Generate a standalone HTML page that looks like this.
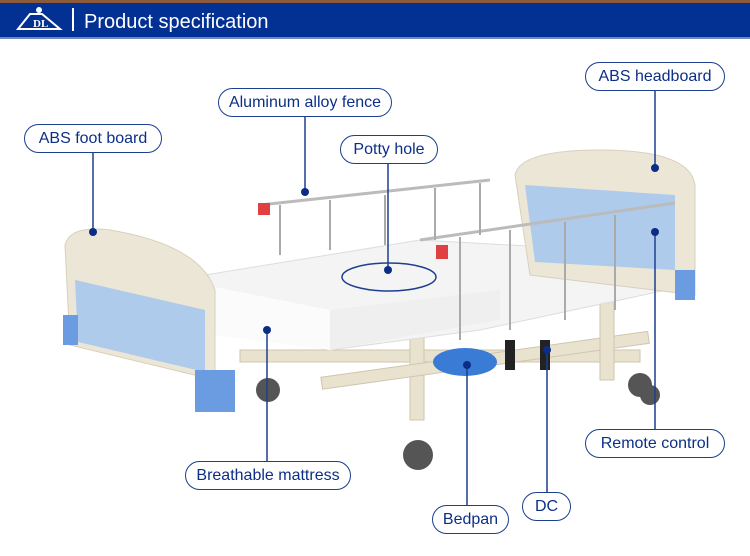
<!DOCTYPE html>
<html><head><meta charset="utf-8"><style>
body{margin:0;width:750px;height:556px;overflow:hidden;background:#fff;font-family:"Liberation Sans",sans-serif}
.lbl{position:absolute;border:1.5px solid #1d3f8f;border-radius:15px;background:#fff;color:#0c2f86;font-size:16px;text-align:center;box-sizing:border-box;line-height:28px}
</style></head><body>
<div style="position:absolute;left:0;top:0;width:750px;height:3px;background:#8a5a3a"></div>
<div style="position:absolute;left:0;top:3px;width:750px;height:34px;background:#033093"></div>
<div style="position:absolute;left:0;top:37px;width:750px;height:2px;background:#6f86c0"></div>
<svg style="position:absolute;left:0;top:0" width="750" height="556">
<g stroke="#fff" stroke-width="2" fill="none"><path d="M18 29 L30 14 L42 14 L60 29 Z"/><line x1="73" y1="8" x2="73" y2="31"/></g>
<circle cx="39" cy="10" r="3" fill="#fff"/>
<text x="84" y="28" fill="#fff" font-size="20" font-family="Liberation Sans">Product specification</text>
<text x="33" y="27" fill="#fff" font-size="11" font-weight="bold" font-family="Liberation Serif">DL</text>
<g fill="#e9e2cf" stroke="#cfc6ad">
<rect x="240" y="350" width="400" height="12"/>
<rect x="410" y="330" width="14" height="90"/>
<rect x="320" y="355" width="330" height="12" transform="rotate(-8 480 360)"/>
<rect x="600" y="300" width="14" height="80"/>
</g>
<polygon points="205,275 420,240 690,255 690,285 480,330 330,350 215,330" fill="#f4f4f4" stroke="#ddd"/>
<polygon points="205,285 330,310 330,350 215,335" fill="#fbfbfb"/>
<polygon points="330,310 500,290 500,320 330,350" fill="#efefef"/>
<path d="M515 175 Q520 150 600 150 Q690 150 695 185 L695 295 L530 275 Z" fill="#ece6d6" stroke="#d8d0bc"/>
<polygon points="525,185 675,195 675,270 535,262" fill="#aecbec"/>
<rect x="675" y="270" width="20" height="30" fill="#6b9be0"/>
<path d="M65 245 Q70 225 110 230 Q200 245 215 290 L215 380 L70 345 Z" fill="#ece6d6" stroke="#d8d0bc"/>
<polygon points="75,280 205,310 205,372 78,342" fill="#aecbec"/>
<rect x="195" y="370" width="40" height="42" fill="#6b9be0"/>
<rect x="63" y="315" width="15" height="30" fill="#6b9be0"/>
<g stroke="#bbb" stroke-width="3">
<line x1="260" y1="205" x2="490" y2="180"/><line x1="420" y1="240" x2="675" y2="203"/>
</g>
<g stroke="#aaa" stroke-width="2">
<line x1="280" y1="205" x2="280" y2="255"/><line x1="330" y1="200" x2="330" y2="250"/><line x1="385" y1="195" x2="385" y2="245"/><line x1="435" y1="188" x2="435" y2="240"/><line x1="480" y1="183" x2="480" y2="235"/>
<line x1="460" y1="237" x2="460" y2="340"/><line x1="510" y1="230" x2="510" y2="330"/><line x1="565" y1="222" x2="565" y2="320"/><line x1="615" y1="215" x2="615" y2="310"/>
</g>
<rect x="258" y="203" width="12" height="12" fill="#e04040"/><rect x="436" y="245" width="12" height="14" fill="#e04040"/>
<ellipse cx="465" cy="362" rx="32" ry="14" fill="#3a7bd5"/>
<rect x="505" y="340" width="10" height="30" fill="#222"/><rect x="540" y="340" width="10" height="30" fill="#222"/>
<g fill="#555"><circle cx="268" cy="390" r="12"/><circle cx="418" cy="455" r="15"/><circle cx="640" cy="385" r="12"/><circle cx="650" cy="395" r="10"/></g>
<ellipse cx="389" cy="277" rx="47" ry="14" fill="none" stroke="#1d3f8f" stroke-width="1.5"/>
<g stroke="#1d3f8f" stroke-width="1.5">
<line x1="93" y1="153" x2="93" y2="232"/><line x1="305" y1="116" x2="305" y2="192"/>
<line x1="388" y1="163" x2="388" y2="270"/><line x1="655" y1="91" x2="655" y2="168"/>
<line x1="655" y1="232" x2="655" y2="429"/><line x1="267" y1="330" x2="267" y2="461"/>
<line x1="467" y1="365" x2="467" y2="505"/><line x1="547" y1="350" x2="547" y2="492"/>
</g>
<g fill="#0b2d85"><circle cx="93" cy="232" r="4"/><circle cx="305" cy="192" r="4"/><circle cx="388" cy="270" r="4"/><circle cx="655" cy="168" r="4"/><circle cx="655" cy="232" r="4"/><circle cx="267" cy="330" r="4"/><circle cx="467" cy="365" r="4"/><circle cx="547" cy="350" r="4"/></g>
</svg>
<div class="lbl" style="left:24px;top:124px;width:138px;height:29px">ABS foot board</div>
<div class="lbl" style="left:218px;top:88px;width:174px;height:29px">Aluminum alloy fence</div>
<div class="lbl" style="left:340px;top:135px;width:98px;height:29px">Potty hole</div>
<div class="lbl" style="left:585px;top:62px;width:140px;height:29px">ABS headboard</div>
<div class="lbl" style="left:585px;top:429px;width:140px;height:29px">Remote control</div>
<div class="lbl" style="left:185px;top:461px;width:166px;height:29px">Breathable mattress</div>
<div class="lbl" style="left:432px;top:505px;width:77px;height:29px">Bedpan</div>
<div class="lbl" style="left:522px;top:492px;width:49px;height:29px">DC</div>
</body></html>
